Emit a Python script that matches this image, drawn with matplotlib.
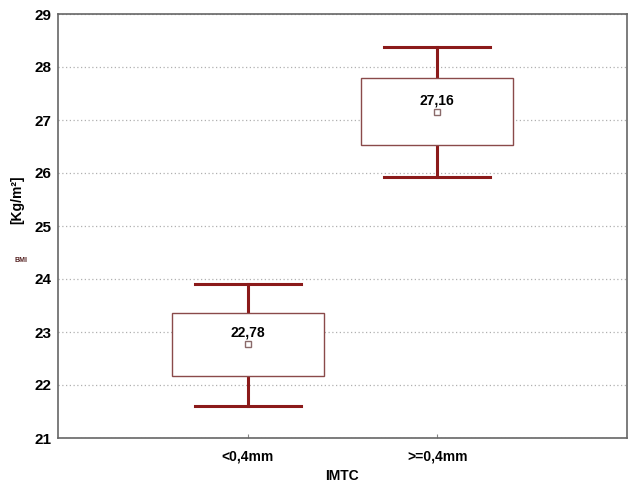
import numpy as np
import matplotlib.pyplot as plt
from matplotlib.patches import Rectangle

plt.rcParams['font.family'] = ['Liberation Sans', 'DejaVu Sans']

# Data
groups = ['<0,4mm', '>=0,4mm']
means = [22.78, 27.16]
box_low = [22.17, 26.53]
box_high = [23.36, 27.79]
whisk_low = [21.60, 25.92]
whisk_high = [23.91, 28.38]
mean_labels = ['22,78', '27,16']

fig = plt.figure(figsize=(6.32, 4.84), dpi=100)
ax = fig.add_axes([58 / 632, 1 - 438 / 484, 569 / 632, 424 / 484])

red = '#8b1a1a'
pos = np.arange(1, len(groups) + 1)
for i, x in enumerate(pos):
    # whiskers
    ax.plot([x, x], [box_high[i], whisk_high[i]], color=red, lw=2.2, zorder=3)
    ax.plot([x, x], [whisk_low[i], box_low[i]], color=red, lw=2.2, zorder=3)
    ax.plot([x - 0.28, x + 0.28], [whisk_high[i]] * 2, color=red, lw=2.2, zorder=3)
    ax.plot([x - 0.28, x + 0.28], [whisk_low[i]] * 2, color=red, lw=2.2, zorder=3)
    # box
    ax.add_patch(Rectangle((x - 0.4, box_low[i]), 0.8, box_high[i] - box_low[i],
                           facecolor='white', edgecolor='#8a4a4a', lw=1.0, zorder=3))
    # mean marker
    ax.plot(x, means[i], marker='s', ms=5, mfc='white', mec='#8a6a6a', mew=1.0, zorder=4)
    ax.text(x, means[i] + 0.07, mean_labels[i], ha='center', va='bottom',
            fontsize=10, fontweight='bold', zorder=5)

ax.set_xlim(0, 3)
ax.set_ylim(21, 29)
ax.set_yticks(range(21, 30))
ax.set_xticks(pos)
ax.set_xticklabels(groups, fontsize=10, fontweight='bold')
ax.tick_params(axis='y', length=0, pad=5, labelsize=11)
ax.tick_params(axis='x', direction='in', length=3, pad=8, color='#888888')
for lab in ax.get_yticklabels():
    lab.set_fontweight('bold')
ax.grid(axis='y', linestyle=(0, (1, 2)), color='#b0b0b0', lw=0.9, zorder=0)
for sp in ax.spines.values():
    sp.set_color('#666666')
    sp.set_linewidth(1.2)

fig.text(342 / 632, 1 - 476 / 484, 'IMTC', ha='center', va='center',
         fontsize=10, fontweight='bold')
fig.text(17 / 632, 1 - 200 / 484, '[Kg/m²]', rotation=90, ha='center', va='center',
         fontsize=10, fontweight='bold')
fig.text(21 / 632, 1 - 261 / 484, 'BMI', ha='center', va='center', fontsize=5,
         fontweight='bold', color='#552222')

fig.savefig('out.png', dpi=100)
